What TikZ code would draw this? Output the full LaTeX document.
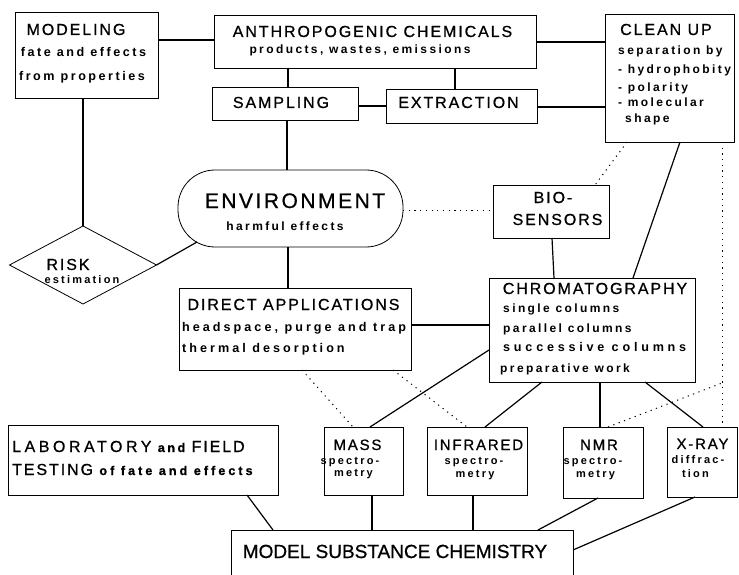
\documentclass[tikz,border=0pt]{standalone}
\usepackage{fontspec}
\setmainfont{Liberation Sans}
\usetikzlibrary{shapes.geometric}
\newcommand{\HdF}[1]{\fontsize{#1}{#1}\selectfont\addfontfeature{LetterSpace=12,FakeBold=0.8}}
\newcommand{\SmF}[1]{\fontsize{#1}{#1}\selectfont\bfseries\addfontfeature{LetterSpace=20}}
\begin{document}
\begin{tikzpicture}[x=1pt,y=-1pt,
  box/.style={draw, line width=0.8pt, inner sep=0pt, outer sep=0pt},
  conn/.style={line width=1.2pt},
  dots/.style={line width=1pt, dash pattern=on 1.2pt off 4.5pt},
  txt/.style={inner sep=0pt, anchor=base},
  hd/.style={txt, font=\HdF{16}},
  hdm/.style={txt, font=\HdF{15}},
  sm/.style={txt, font=\SmF{12.6}},
  smc/.style={txt, font=\SmF{12}},
  sms/.style={txt, font=\SmF{11}}]
\useasboundingbox (0,0) rectangle (739,575);
\clip (0,0) rectangle (739,575);
% boxes
\node[box, minimum width=143pt, minimum height=86pt] (modeling) at (86.5,55) {};
\node[box, minimum width=322pt, minimum height=53pt] (anthro) at (375,41.5) {};
\node[box, minimum width=146pt, minimum height=33pt] (sampling) at (285,103.5) {};
\node[box, minimum width=151pt, minimum height=34pt] (extraction) at (461.5,106) {};
\node[box, minimum width=129pt, minimum height=128pt] (cleanup) at (669.5,78) {};
\node[box, rounded corners=37pt, minimum width=225pt, minimum height=77pt] (env) at (290.5,208.5) {};
\node[box, diamond, minimum width=147pt, minimum height=78pt] (risk) at (83,265) {};
\node[box, minimum width=116pt, minimum height=53pt] (bio) at (551,211.5) {};
\node[box, minimum width=232pt, minimum height=82pt] (direct) at (295,329) {};
\node[box, minimum width=206pt, minimum height=104pt] (chrom) at (592,330) {};
\node[box, minimum width=270pt, minimum height=70pt] (lab) at (143,460) {};
\node[box, minimum width=79pt, minimum height=68pt] (mass) at (363.5,461) {};
\node[box, minimum width=100pt, minimum height=68pt] (infra) at (477,461) {};
\node[box, minimum width=80pt, minimum height=71pt] (nmr) at (603,462.5) {};
\node[box, minimum width=70pt, minimum height=70pt] (xray) at (702,462) {};
\node[box, minimum width=342pt, minimum height=70pt] (model) at (402,565) {};
% texts
\node[hd] (tmod1) at (76,35) {MODELING};
\node[sm] (tmod2) at (83.5,57) {fate and effects};
\node[sm] (tmod3) at (82,81) {from properties};
\node[hd] (tant1) at (372.5,37) {ANTHROPOGENIC CHEMICALS};
\node[smc] (tant2) at (360,54) {products, wastes, emissions};
\node[hd] (tsam) at (281,108) {SAMPLING};
\node[hd] (text) at (458.5,108) {EXTRACTION};
\node[hd, anchor=base west] (tcl1) at (620,35) {CLEAN UP};
\node[smc, anchor=base west] (tcl2) at (618,55) {separation by};
\node[smc, anchor=base west] (tcl3) at (618,74) {- hydrophobity};
\node[smc, anchor=base west] (tcl4) at (618,92) {- polarity};
\node[smc, anchor=base west] (tcl5) at (618,107) {- molecular};
\node[smc, anchor=base west] (tcl6) at (625,123) {shape};
\node[txt, font=\HdF{21}] (tenv1) at (295,208) {ENVIRONMENT};
\node[smc] (tenv2) at (285,230) {harmful effects};
\node[hd] (trisk1) at (68,270) {RISK};
\node[sms] (trisk2) at (82,283) {estimation};
\node[hd] (tbio1) at (553,203) {BIO-};
\node[hd] (tbio2) at (557.5,225) {SENSORS};
\node[hd] (tdir1) at (293.5,310) {DIRECT APPLICATIONS};
\node[sm, anchor=base west, font=\SmF{12.6}\addfontfeature{LetterSpace=24}] (tdir2) at (182,331) {headspace, purge and trap};
\node[sm, anchor=base west, font=\SmF{12.6}\addfontfeature{LetterSpace=24}] (tdir3) at (182,352) {thermal desorption};
\node[hd] (tchr1) at (595,294) {CHROMATOGRAPHY};
\node[smc, anchor=base west] (tchr2) at (503,312) {single columns};
\node[smc, anchor=base west] (tchr3) at (503,332) {parallel columns};
\node[sm, anchor=base west, font=\SmF{12.6}\addfontfeature{LetterSpace=30}] (tchr4) at (503,351) {successive columns};
\node[smc, anchor=base west] (tchr5) at (500,372) {preparative work};
\node[hd, anchor=base west] (tlab1) at (12,452) {{\addfontfeature{LetterSpace=22}LABORATORY} {\SmF{12.6}and} FIELD};
\node[hd, anchor=base west] (tlab2) at (12,475) {TESTING {\SmF{12.6}\addfontfeature{LetterSpace=24}of fate and effects}};
\node[hdm] (tmas1) at (357.5,450) {MASS};
\node[sms] (tmas2) at (350,464) {spectro-};
\node[sms] (tmas3) at (353.5,476) {metry};
\node[hdm] (tinf1) at (478.5,450) {INFRARED};
\node[sms] (tinf2) at (474,464) {spectro-};
\node[sms] (tinf3) at (475,477) {metry};
\node[hdm] (tnmr1) at (599,450) {NMR};
\node[sms] (tnmr2) at (593,464) {spectro-};
\node[sms] (tnmr3) at (595.5,477) {metry};
\node[hdm] (txr1) at (702.5,449) {X-RAY};
\node[sms] (txr2) at (698,463) {diffrac-};
\node[sms] (txr3) at (695.5,477) {tion};
\node[txt, font=\fontsize{19}{19}\selectfont\addfontfeature{FakeBold=0.8}] (tmodel) at (395,558) {MODEL SUBSTANCE CHEMISTRY};
% connectors
\coordinate (envrisk) at (197,242);
\coordinate (xdot) at (722,383);
\draw[conn] (modeling.east |- 0,40) -- (anthro.west |- 0,40);
\draw[conn] (risk.north |- modeling.south) -- (risk.north);
\draw[conn] (288,0 |- anthro.south) -- (288,0 |- sampling.north);
\draw[conn] (455,0 |- anthro.south) -- (455,0 |- extraction.north);
\draw[conn] (sampling.east |- 0,106) -- (extraction.west |- 0,106);
\draw[conn] (anthro.east |- 0,42) -- (cleanup.west |- 0,42);
\draw[conn] (extraction.east |- 0,107) -- (cleanup.west |- 0,107);
\draw[conn] (287,0 |- sampling.south) -- (287,0 |- env.north);
\draw[dots] (env.east |- 0,210) -- (bio.west |- 0,210);
\draw[dots] (627,0 |- cleanup.south) -- (595,0 |- bio.north);
\draw[conn] (680,0 |- cleanup.south) -- (633,0 |- chrom.north);
\draw[dots] (722,0 |- cleanup.south) -- (722,0 |- xray.north);
\draw[conn] (552,0 |- bio.south) -- (554,0 |- chrom.north);
\draw[conn] (risk.east) -- (envrisk);
\draw[conn] (288,0 |- env.south) -- (288,0 |- direct.north);
\draw[conn] (direct.east |- 0,325) -- (chrom.west |- 0,325);
\draw[conn] (chrom.west |- 0,350) -- (370,0 |- mass.north);
\draw[dots] (302,0 |- direct.south) -- (353,0 |- mass.north);
\draw[dots] (393,0 |- direct.south) -- (467,0 |- infra.north);
\draw[conn] (542,0 |- chrom.south) -- (485,0 |- infra.north);
\draw[conn] (600,0 |- chrom.south) -- (600,0 |- nmr.north);
\draw[conn] (645,0 |- chrom.south) -- (703,0 |- xray.north);
\draw[dots] (608,0 |- nmr.north) -- (xdot);
\draw[conn] (247,0 |- lab.south) -- (273,0 |- model.north);
\draw[conn] (372,0 |- mass.south) -- (372,0 |- model.north);
\draw[conn] (473,0 |- infra.south) -- (473,0 |- model.north);
\draw[conn] (598,0 |- nmr.south) -- (538,0 |- model.north);
\draw[conn] (695,0 |- xray.south) -- (model.east |- 0,550);
\end{tikzpicture}
\end{document}
